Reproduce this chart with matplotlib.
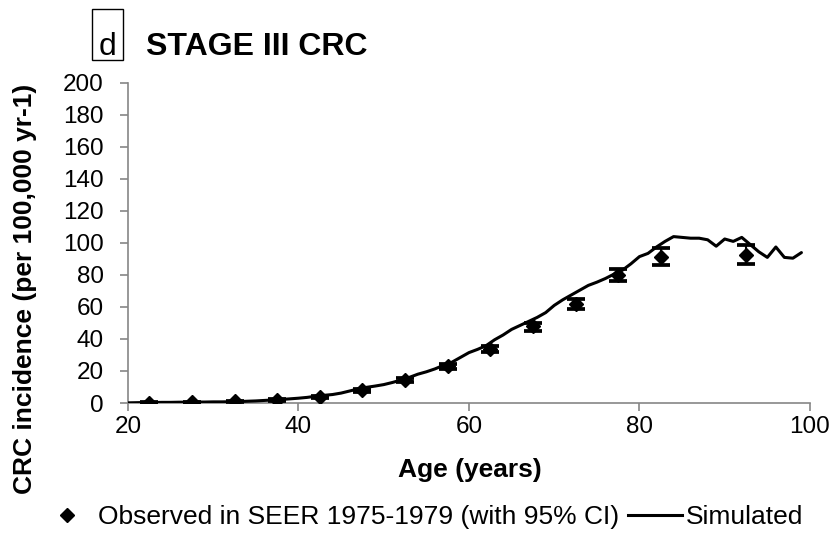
import numpy as np
import matplotlib.pyplot as plt
from matplotlib.patches import Rectangle
from matplotlib.lines import Line2D

plt.rcParams['font.family'] = ['Liberation Sans', 'DejaVu Sans']

# observed SEER 1975-1979, 5-year age group midpoints
obs_age = [22.5, 27.5, 32.5, 37.5, 42.5, 47.5, 52.5, 57.5, 62.5, 67.5, 72.5, 77.5, 82.5, 92.5]
obs_val = [0.2, 0.4, 1.1, 1.9, 4.0, 8.0, 14.3, 23.0, 34.0, 48.0, 62.0, 80.0, 91.0, 92.5]
obs_lo = [0.1, 0.3, 0.8, 1.5, 3.4, 7.1, 13.2, 21.5, 32.0, 45.0, 59.0, 76.0, 86.0, 87.0]
obs_hi = [0.4, 0.6, 1.4, 2.3, 4.6, 8.9, 15.4, 24.5, 35.6, 50.0, 65.0, 84.0, 97.0, 99.0]

# simulated incidence by single year of age
sim_age = list(range(20, 100))
sim_val = [0.1, 0.2, 0.3, 0.3, 0.4, 0.4, 0.5, 0.5, 0.6, 0.6,
           0.7, 0.7, 0.8, 0.9, 1.1, 1.3, 1.6, 1.9, 2.2, 2.6,
           3.0, 3.5, 4.2, 4.8, 5.3, 6.2, 7.5, 8.8, 9.8, 10.6,
           11.5, 12.8, 14.3, 16.0, 18.0, 19.5, 21.3, 23.5, 25.5, 28.5,
           31.5, 33.5, 35.8, 39.5, 42.5, 46.0, 48.5, 51.0, 53.5, 56.5,
           61.0, 64.5, 67.5, 70.5, 73.5, 75.5, 77.8, 80.5, 83.0, 87.0,
           91.5, 93.5, 97.5, 101.0, 104.0, 103.5, 103.0, 103.0, 102.0, 98.0,
           102.5, 101.0, 103.5, 99.0, 94.5, 91.0, 97.5, 91.0, 90.5, 94.0]

fig = plt.figure(figsize=(8.35, 5.33), dpi=100)
ax = fig.add_axes([0.1533, 0.2439, 0.8167, 0.6004])

yerr = [np.array(obs_val) - np.array(obs_lo), np.array(obs_hi) - np.array(obs_val)]
ax.errorbar(obs_age, obs_val, yerr=yerr, fmt='D', color='black', markersize=7,
            elinewidth=1.5, capsize=6.5, capthick=2.7, zorder=3)
ax.plot(sim_age, sim_val, color='black', linewidth=2.2, zorder=4,
        solid_joinstyle='round', solid_capstyle='round')

ax.set_xlim(20, 100)
ax.set_ylim(0, 200)
ax.set_xticks(np.arange(20, 101, 20))
ax.set_yticks(np.arange(0, 201, 20))
for s in ['top', 'right']:
    ax.spines[s].set_visible(False)
for s in ['left', 'bottom']:
    ax.spines[s].set_color('#868686')
    ax.spines[s].set_linewidth(1.2)
ax.tick_params(axis='both', colors='#868686', labelcolor='black', labelsize=17.5,
               length=5.5, width=1.2, direction='out')
ax.tick_params(axis='y', pad=12)
ax.tick_params(axis='x', pad=4)
ax.set_xlabel('Age (years)', fontsize=19, fontweight='bold')
ax.xaxis.set_label_coords(0.5015, -0.172)
ax.set_ylabel('CRC incidence (per 100,000 yr-1)', fontsize=19, fontweight='bold')
ax.yaxis.set_label_coords(-0.133, 0.356)

# panel letter in a box and title
fig.add_artist(Rectangle((92 / 835, 1 - 60 / 533), 31 / 835, 51 / 533,
                         transform=fig.transFigure, fill=False, ec='black', lw=1))
fig.text(107.5 / 835, 1 - 55 / 533, 'd', fontsize=23, ha='center', va='baseline')
fig.text(146 / 835, 1 - 55 / 533, 'STAGE III CRC', fontsize=23, fontweight='bold',
         ha='left', va='baseline')

handles = [Line2D([], [], marker='D', color='black', linestyle='none', markersize=7),
           Line2D([], [], color='black', linewidth=2.2)]
labels = ['Observed in SEER 1975-1979 (with 95% CI)', 'Simulated']
fig.legend(handles, labels, loc='center', bbox_to_anchor=(0.505, 0.030), ncol=2,
           frameon=False, fontsize=19, handlelength=2.05, handletextpad=0.15,
           columnspacing=0.3, borderpad=0, borderaxespad=0)

fig.savefig('out.png', dpi=100)
